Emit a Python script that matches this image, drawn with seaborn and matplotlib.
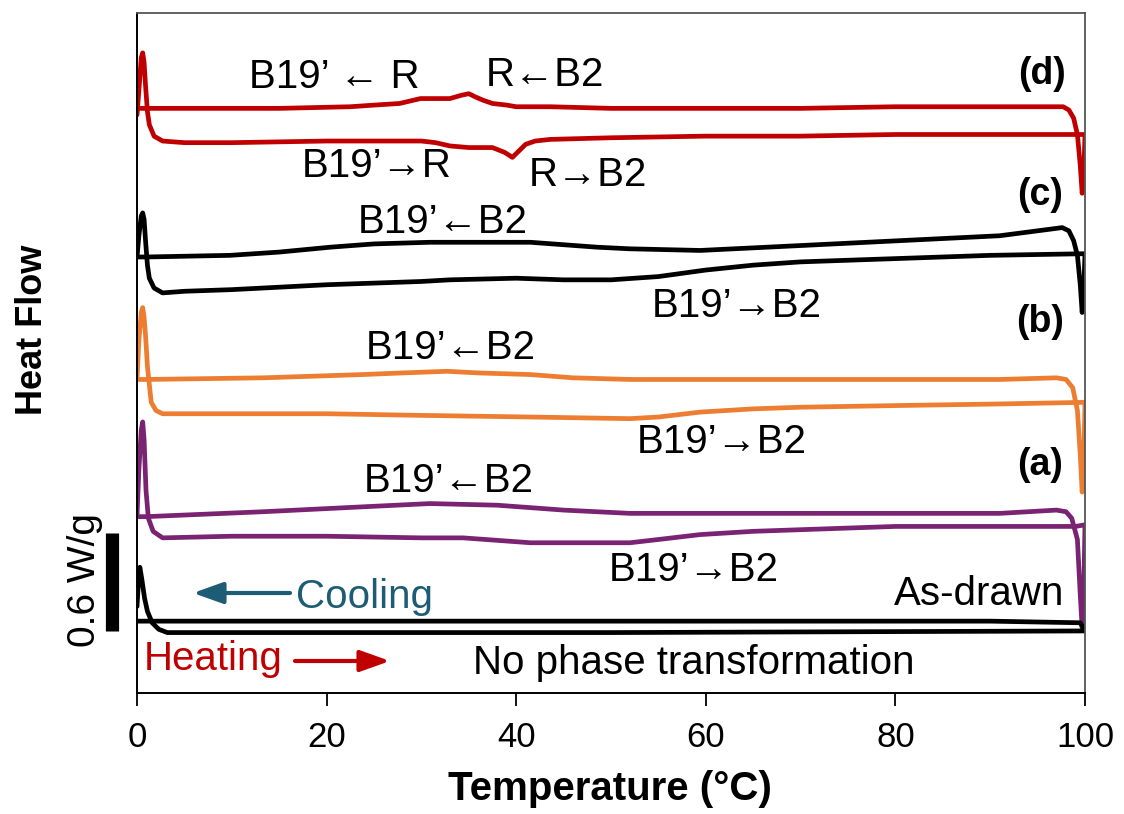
import matplotlib
matplotlib.use("Agg")
import matplotlib.pyplot as plt
import pandas as pd
import seaborn as sns

# ---------------- data (Temperature in °C, heat flow in W/g, curves offset) -------------
# (d) red
d_heat_T = [0, 0.2, 0.45, 0.6, 0.75, 0.9, 1.1, 1.3, 1.8, 2.7, 5, 10, 20, 28, 30, 31.5, 33, 35,
            37.5, 38.8, 39.6, 40.3, 41, 42, 43.6, 50, 60, 70, 80, 90, 100]
d_heat_H = [3.54, 3.69, 3.89, 3.92, 3.86, 3.72, 3.56, 3.48, 3.41, 3.38, 3.37, 3.37, 3.38, 3.38,
            3.38, 3.37, 3.35, 3.34, 3.34, 3.31, 3.28, 3.32, 3.36, 3.38, 3.39, 3.40, 3.41, 3.41,
            3.42, 3.42, 3.42]
d_cool_T = [100, 99.85, 99.7, 99.5, 99.2, 98.8, 98.3, 97.7, 90, 80, 70, 60, 50, 43.6, 40, 39,
            37.5, 36.5, 35.7, 35, 34.2, 33, 31.5, 29.9, 27.7, 25, 22.5, 15, 5, 0]
d_cool_H = [3.42, 3.14, 3.06, 3.23, 3.42, 3.52, 3.57, 3.59, 3.59, 3.59, 3.58, 3.58, 3.58, 3.59,
            3.59, 3.60, 3.61, 3.63, 3.65, 3.67, 3.66, 3.64, 3.64, 3.64, 3.61, 3.60, 3.59, 3.58,
            3.58, 3.58]

# (c) black
c_heat_T = [0, 0.2, 0.45, 0.6, 0.75, 0.9, 1.1, 1.3, 1.8, 2.7, 5, 10, 20, 30, 33, 40, 45, 50, 55,
            60, 65, 70, 80, 90, 100]
c_heat_H = [2.67, 2.80, 2.92, 2.94, 2.90, 2.77, 2.62, 2.54, 2.48, 2.45, 2.46, 2.47, 2.50, 2.52,
            2.53, 2.54, 2.53, 2.53, 2.55, 2.59, 2.62, 2.64, 2.66, 2.68, 2.69]
c_cool_T = [100, 99.85, 99.7, 99.5, 99.2, 98.8, 98.3, 97.6, 96.3, 91, 80.5, 70, 59.4, 52, 48.5,
            41.5, 34.4, 30.9, 25, 20.4, 15, 9.8, 1, 0]
c_cool_H = [2.69, 2.44, 2.33, 2.50, 2.68, 2.77, 2.83, 2.85, 2.84, 2.80, 2.77, 2.74, 2.71, 2.72,
            2.73, 2.76, 2.76, 2.76, 2.75, 2.73, 2.70, 2.68, 2.67, 2.67]

# (b) orange
b_heat_T = [0, 0.2, 0.45, 0.6, 0.75, 0.9, 1.1, 1.5, 2.0, 2.7, 10, 20, 30, 41.5, 52, 55, 59.4, 65,
            70, 80, 91, 100]
b_heat_H = [1.92, 2.16, 2.33, 2.36, 2.30, 2.19, 2.00, 1.78, 1.73, 1.71, 1.71, 1.71, 1.70, 1.69,
            1.68, 1.69, 1.72, 1.74, 1.75, 1.76, 1.77, 1.78]
b_cool_T = [100, 99.85, 99.7, 99.5, 99.2, 98.7, 98, 97, 91, 80, 70, 60, 52, 46, 41.5, 36, 32.7,
            28, 23.8, 13.3, 1, 0]
b_cool_H = [1.78, 1.37, 1.23, 1.46, 1.73, 1.87, 1.92, 1.93, 1.92, 1.92, 1.92, 1.92, 1.92, 1.93,
            1.95, 1.96, 1.97, 1.96, 1.95, 1.93, 1.92, 1.92]

# (a) purple
a_heat_T = [0, 0.2, 0.45, 0.6, 0.75, 0.95, 1.2, 1.7, 2.7, 10, 20, 30, 34.4, 41.5, 45, 52, 55,
            59.4, 65, 70, 80, 91, 99, 100]
a_heat_H = [1.08, 1.37, 1.61, 1.66, 1.55, 1.24, 1.07, 0.99, 0.95, 0.96, 0.96, 0.95, 0.95, 0.92,
            0.92, 0.92, 0.94, 0.97, 0.99, 1.00, 1.02, 1.02, 1.02, 1.03]
a_cool_T = [100, 99.85, 99.7, 99.5, 99.2, 98.6, 98, 97, 91, 80, 70, 60, 52, 45, 38, 30.9, 23.8,
            13.3, 1, 0]
a_cool_H = [1.03, 0.57, 0.40, 0.60, 0.94, 1.07, 1.11, 1.12, 1.10, 1.10, 1.10, 1.10, 1.10, 1.12,
            1.15, 1.16, 1.14, 1.11, 1.08, 1.08]

# As-drawn black
ad_heat_T = [0, 0.15, 0.3, 0.5, 0.8, 1.1, 1.6, 2.3, 3.2, 10, 50, 100]
ad_heat_H = [0.53, 0.68, 0.77, 0.70, 0.58, 0.50, 0.43, 0.39, 0.37, 0.37, 0.37, 0.38]
ad_cool_T = [100, 99.5, 90, 50, 10, 1, 0]
ad_cool_H = [0.38, 0.43, 0.44, 0.44, 0.44, 0.44, 0.44]

x_ticks = [0, 20, 40, 60, 80, 100]
scale_bar = 0.6  # W/g

# ---------------- styling ----------------
sns.set_theme(style="white")
plt.rcParams["font.family"] = ["Liberation Sans", "DejaVu Sans"]
plt.rcParams["text.color"] = "black"
plt.rcParams["axes.labelcolor"] = "black"
plt.rcParams["xtick.color"] = "black"

W, H = 1124, 814
fig = plt.figure(figsize=(W / 100, H / 100), dpi=100)
ax = fig.add_axes([137 / W, 1 - 693 / H, 948 / W, 680 / H])

RED = "#C00000"
ORANGE = "#ED7D31"
PURPLE = "#7A2373"
BLACK = "#000000"
TEAL = "#1E5B74"

curves = [
    (RED, d_heat_T, d_heat_H, d_cool_T, d_cool_H),
    (BLACK, c_heat_T, c_heat_H, c_cool_T, c_cool_H),
    (ORANGE, b_heat_T, b_heat_H, b_cool_T, b_cool_H),
    (PURPLE, a_heat_T, a_heat_H, a_cool_T, a_cool_H),
    (BLACK, ad_heat_T, ad_heat_H, ad_cool_T, ad_cool_H),
]
for color, hT, hH, cT, cH in curves:
    for T, Hf in ((hT, hH), (cT, cH)):
        df = pd.DataFrame({"T": T, "HF": Hf})
        sns.lineplot(data=df, x="T", y="HF", sort=False, estimator=None, color=color,
                     lw=3.4, ax=ax, solid_joinstyle="round", solid_capstyle="round",
                     legend=False)

ax.set_xlim(0, 100)
ax.set_ylim(0, 4.164)
ax.set_xticks(x_ticks)
ax.set_xticklabels([str(t) for t in x_ticks], fontsize=25, color="black")
ax.set_yticks([])
ax.tick_params(axis="x", direction="out", length=9, width=1.3, pad=11, color="black",
               bottom=True)
for s in ["top", "right"]:
    ax.spines[s].set_color("#555555")
    ax.spines[s].set_linewidth(1.3)
for s in ["left", "bottom"]:
    ax.spines[s].set_color("black")
    ax.spines[s].set_linewidth(1.4)

ax.set_xlabel("Temperature (°C)", fontsize=29, fontweight="bold", color="black")
ax.xaxis.set_label_coords((610 - 137) / 948, (693 - 770) / 680)
ax.set_ylabel("Heat Flow", fontsize=26, fontweight="bold", color="black")
ax.yaxis.set_label_coords((50 - 137) / 948, (693 - 330) / 680)

# scale bar (0.6 W/g)
ax.plot([-2.64, -2.64], [0.38, 0.38 + scale_bar], color="black", lw=9.5,
        solid_capstyle="butt", clip_on=False)


def ftext(px, py, s, **kw):
    fig.text(px / W, 1 - py / H, s, ha="center", va="center", color=kw.pop("color", "black"),
             **kw)


FS = 29
ftext(85, 580, "0.6 W/g", fontsize=28, rotation=90)
ftext(334, 77, "B19\u2019 \u2190 R", fontsize=FS)
ftext(545, 75, "R\u2190B2", fontsize=FS)
ftext(377, 166, "B19\u2019\u2192R", fontsize=FS)
ftext(588, 175, "R\u2192B2", fontsize=FS)
ftext(1042, 74, "(d)", fontsize=27, fontweight="bold")
ftext(443, 222, "B19\u2019\u2190B2", fontsize=FS)
ftext(1040, 195, "(c)", fontsize=27, fontweight="bold")
ftext(737, 306, "B19\u2019\u2192B2", fontsize=FS)
ftext(451, 348, "B19\u2019\u2190B2", fontsize=FS)
ftext(1040, 322, "(b)", fontsize=27, fontweight="bold")
ftext(722, 442, "B19\u2019\u2192B2", fontsize=FS)
ftext(449, 481, "B19\u2019\u2190B2", fontsize=FS)
ftext(1040, 465, "(a)", fontsize=27, fontweight="bold")
ftext(694, 570, "B19\u2019\u2192B2", fontsize=FS)
ftext(979, 594, "As-drawn", fontsize=FS)
ftext(694, 663, "No phase transformation", fontsize=FS)
ftext(364, 597, "Cooling", fontsize=FS, color=TEAL)
ftext(213, 659, "Heating", fontsize=FS, color=RED)


def farrow(x0, y0, x1, y1, color):
    fig.patches.append(matplotlib.patches.FancyArrowPatch(
        (x0 / W, 1 - y0 / H), (x1 / W, 1 - y1 / H), transform=fig.transFigure,
        arrowstyle="-|>,head_length=1.4,head_width=0.5", mutation_scale=13,
        color=color, lw=3, shrinkA=0, shrinkB=0))


farrow(290, 593, 193, 593, TEAL)
farrow(295, 661, 390, 661, RED)

fig.savefig("out.png", dpi=100)
